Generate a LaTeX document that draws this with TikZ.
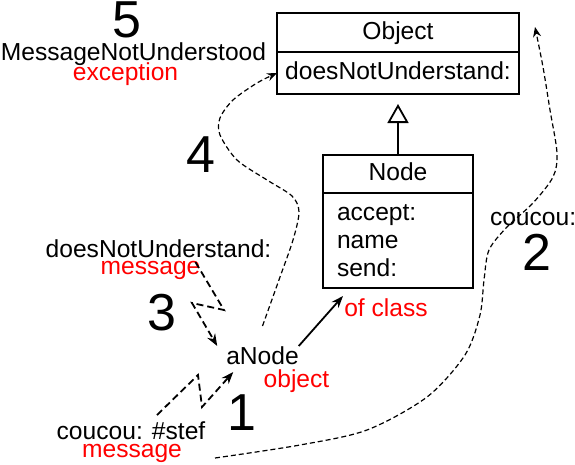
\documentclass[tikz,border=0pt]{standalone}
\usepackage{fontspec}
\setmainfont{Liberation Sans}
\usetikzlibrary{arrows.meta,positioning}

\tikzset{
  lbl/.style={inner sep=0pt, outer sep=0pt, text height=18pt, text depth=5pt,
    font=\fontsize{24.6}{28}\selectfont},
  redlbl/.style={lbl, text=red},
  bignum/.style={inner sep=0pt, font=\fontsize{52}{52}\selectfont},
  classhead/.style={lbl, draw, line width=1.8pt, minimum width=242pt},
  methods/.style={draw, line width=1.8pt, inner xsep=14pt, inner ysep=0pt, outer sep=0pt,
    minimum width=150pt, text width=122pt, align=left,
    font=\fontsize{24.6}{28}\selectfont},
  isa/.style={line width=1.8pt, -{Stealth[length=12pt,width=9pt]}},
  inherit/.style={line width=1.8pt, shorten >=10pt, -{Triangle[open,length=19pt,width=21pt]}},
  zigzag/.style={line width=1.8pt, dash pattern=on 7pt off 4pt, -{Stealth[length=12pt,width=9pt]}},
  flow/.style={line width=1.2pt, dash pattern=on 5pt off 3pt, -{Stealth[length=10pt,width=8pt]}}
}

\begin{document}
\begin{tikzpicture}[x=1pt, y=-1pt]
  \useasboundingbox (0,0) rectangle (575,464);

  % classes
  \node[classhead, minimum height=39pt] (objhead) at (398,32.5) {Object};
  \node[classhead, minimum height=42pt, below=0pt of objhead] (objbody) {doesNotUnderstand:};
  \node[classhead, minimum width=150pt, minimum height=38pt] (nodehead) at (398,174) {Node};
  \node[methods, minimum height=95pt, below=0pt of nodehead] (nodebody) {accept:\\name\\send:};

  % labels
  \node[lbl, anchor=base] (mnu) at (133.5,60) {MessageNotUnderstood};
  \node[redlbl, anchor=base] (exc) at (125.5,80) {exception};
  \node[lbl, anchor=base] (dnu) at (158.5,257) {doesNotUnderstand:};
  \node[redlbl, anchor=base] (msg3) at (150.5,274) {message};
  \node[lbl, anchor=base] (anode) at (262.5,364) {aNode};
  \node[redlbl, anchor=base] (obj) at (296.5,387) {object};
  \node[redlbl, anchor=base] (ofclass) at (386,316) {of class};
  \node[lbl, anchor=base west] (coucou) at (490,225) {coucou:};
  \node[lbl, anchor=base] (send) at (131,439) {coucou: \#stef};
  \node[redlbl, anchor=base] (msg1) at (132,457) {message};

  % steps
  \node[bignum, anchor=base] (n1) at (241.5,430) {1};
  \node[bignum, anchor=base] (n2) at (537,270) {2};
  \node[bignum, anchor=base] (n3) at (161.5,330) {3};
  \node[bignum, anchor=base] (n4) at (200.5,172) {4};
  \node[bignum, anchor=base] (n5) at (127,37.5) {5};

  % connectors
  \draw[inherit] (nodehead.north) -- (objbody.south);
  \draw[isa] (anode.north east) -- ([xshift=20pt,yshift=-8pt]nodebody.south west);
  \draw[zigzag] ([xshift=26pt,yshift=6pt]send.north) -- (198,375) -- (202,407)
    -- ([xshift=7pt,yshift=-3pt]anode.south west);
  \draw[zigzag] ([xshift=-5pt,yshift=-6pt]msg3.north east) -- (224,310) -- (192,303)
    -- ([xshift=-9pt]anode.north west);

  \coordinate (c4start) at ([yshift=20pt]anode.north);
  \draw[flow] plot[smooth, tension=0.5] coordinates {(c4start) (280,277) (293,240)
    (299,212) (292,196) (267,180) (237,160) (220,135) (220,118) (233,100) (257,83)
    (objbody.west)};

  \coordinate (c2start) at (215,458);
  \coordinate (c2end) at (535,27);
  \draw[flow] plot[smooth, tension=0.5] coordinates {(c2start) (300,445) (367,430)
    (427,397) (465,355) (480,315) (484,280) (489,250) (507,227) (533,203) (553,177)
    (557,153) (550,110) (543,67) (c2end)};
\end{tikzpicture}
\end{document}
